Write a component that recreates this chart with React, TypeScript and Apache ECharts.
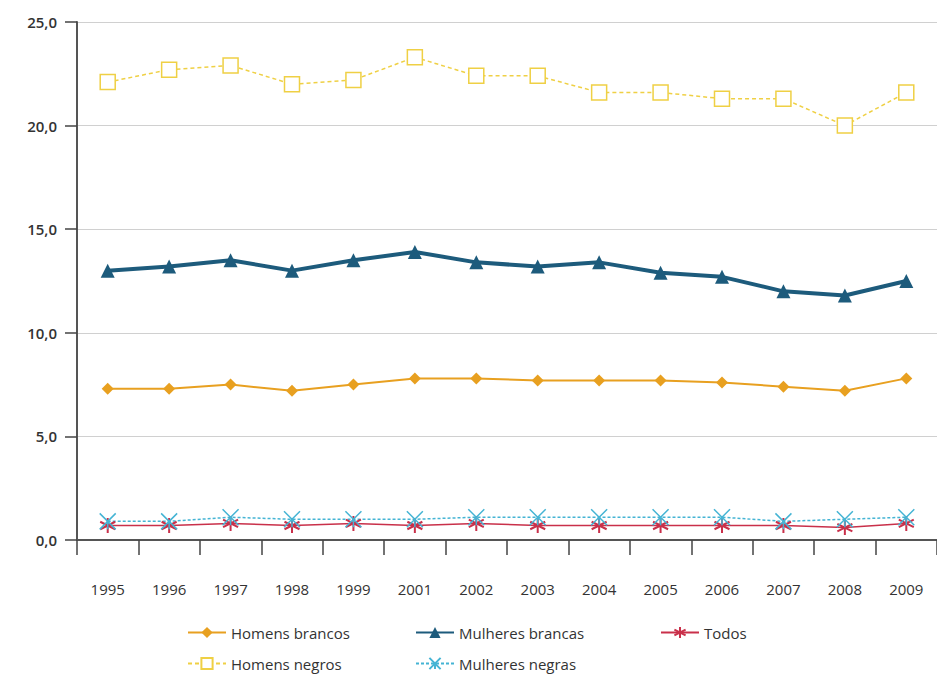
import React, { useEffect, useRef } from "react";
import * as echarts from "echarts";

const years = ["1995", "1996", "1997", "1998", "1999", "2001", "2002", "2003", "2004", "2005", "2006", "2007", "2008", "2009"];
const homensBrancos = [7.3, 7.3, 7.5, 7.2, 7.5, 7.8, 7.8, 7.7, 7.7, 7.7, 7.6, 7.4, 7.2, 7.8];
const mulheresBrancas = [13.0, 13.2, 13.5, 13.0, 13.5, 13.9, 13.4, 13.2, 13.4, 12.9, 12.7, 12.0, 11.8, 12.5];
const todos = [0.7, 0.7, 0.8, 0.7, 0.8, 0.7, 0.8, 0.7, 0.7, 0.7, 0.7, 0.7, 0.6, 0.8];
const homensNegros = [22.1, 22.7, 22.9, 22.0, 22.2, 23.3, 22.4, 22.4, 21.6, 21.6, 21.3, 21.3, 20.0, 21.6];
const mulheresNegras = [0.9, 0.9, 1.1, 1.0, 1.0, 1.0, 1.1, 1.1, 1.1, 1.1, 1.1, 0.9, 1.0, 1.1];

const FONT = "'Open Sans', 'Noto Sans', sans-serif";
const asterisk = "path://M0,-1L0,1M-0.87,-0.5L0.87,0.5M-0.87,0.5L0.87,-0.5";
const crossTail = "path://M-0.87,-1L0.87,1M-0.87,1L0.87,-1M0,0L0,1";

export default function App() {
  const ref = useRef<HTMLDivElement>(null);
  useEffect(() => {
    if (!ref.current) return;
    const chart = echarts.init(ref.current, undefined, { renderer: "svg" });
    const legendText = { fontFamily: FONT, fontSize: 15, color: "#333" };
    const legendBase = { orient: "horizontal", itemWidth: 38, itemHeight: 14, itemGap: 6, textStyle: legendText };
    chart.setOption({
      animation: false,
      backgroundColor: "#fff",
      grid: { left: 77, right: -3, top: 22, bottom: 138, containLabel: false },
      legend: [
        { ...legendBase, data: ["Homens brancos"], left: 182, top: 620 },
        { ...legendBase, data: ["Mulheres brancas"], left: 410, top: 620 },
        { ...legendBase, data: ["Todos"], left: 655, top: 620 },
        { ...legendBase, data: ["Homens negros"], left: 182, top: 651 },
        { ...legendBase, data: ["Mulheres negras"], left: 410, top: 651 },
      ],
      xAxis: {
        type: "category",
        data: years,
        boundaryGap: true,
        axisLine: { lineStyle: { color: "#555", width: 2 } },
        axisTick: { show: true, length: 15, lineStyle: { color: "#444", width: 1.5 } },
        axisLabel: { margin: 41, fontFamily: FONT, fontSize: 15, color: "#333" },
      },
      yAxis: {
        type: "value",
        min: 0,
        max: 25,
        interval: 5,
        axisLine: { show: true, lineStyle: { color: "#555", width: 2 } },
        axisTick: { show: true, length: 12, lineStyle: { color: "#444", width: 1.5 } },
        splitLine: { lineStyle: { color: "#d0d0d0", width: 1 } },
        axisLabel: {
          margin: 20,
          fontFamily: FONT,
          fontSize: 15,
          fontWeight: 600,
          color: "#333",
          formatter: (v: number) => v.toFixed(1).replace(".", ","),
        },
      },
      series: [
        {
          name: "Homens brancos",
          type: "line",
          data: homensBrancos,
          symbol: "diamond",
          symbolSize: 12,
          lineStyle: { color: "#e8a020", width: 2 },
          itemStyle: { color: "#e8a020" },
        },
        {
          name: "Mulheres brancas",
          type: "line",
          data: mulheresBrancas,
          symbol: "triangle",
          symbolSize: 14,
          lineStyle: { color: "#1d5b7c", width: 4 },
          itemStyle: { color: "#1d5b7c" },
        },
        {
          name: "Todos",
          type: "line",
          data: todos,
          symbol: asterisk,
          symbolSize: 15,
          lineStyle: { color: "#c9304a", width: 1.5 },
          itemStyle: { color: "#c9304a", borderColor: "#c9304a", borderWidth: 2 },
        },
        {
          name: "Homens negros",
          type: "line",
          data: homensNegros,
          symbol: "rect",
          symbolSize: 15,
          lineStyle: { color: "#efd044", width: 1.5, type: [4, 3] },
          itemStyle: { color: "#fff", borderColor: "#efd044", borderWidth: 1.5 },
        },
        {
          name: "Mulheres negras",
          type: "line",
          data: mulheresNegras,
          symbol: crossTail,
          symbolSize: 16,
          lineStyle: { color: "#44b4d4", width: 1.5, type: [3, 2] },
          itemStyle: { color: "#44b4d4", borderColor: "#44b4d4", borderWidth: 1.5 },
        },
      ],
    });
    return () => chart.dispose();
  }, []);
  return <div ref={ref} style={{ width: 937, height: 678, position: "absolute", left: 0, top: 0 }} />;
}
